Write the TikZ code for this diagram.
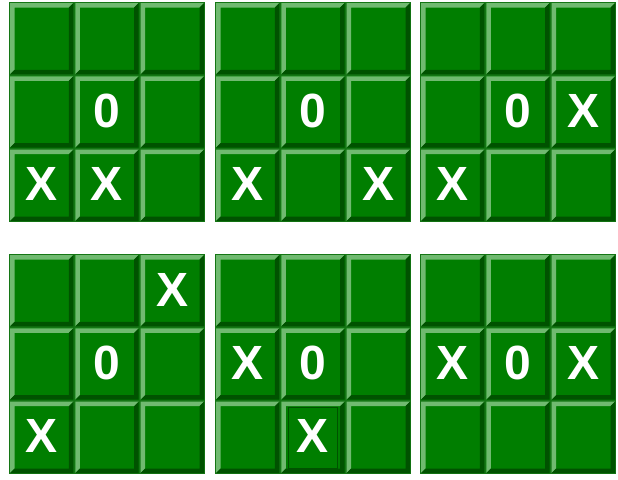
\documentclass[tikz,border=0pt]{standalone}
\usepackage{fontspec}
\setmainfont{Liberation Sans}
\definecolor{cface}{RGB}{0,126,0}
\definecolor{chilite}{RGB}{112,186,112}
\definecolor{cdark}{RGB}{0,82,0}
\definecolor{cboard}{RGB}{20,118,20}
\tikzset{
  tttmark/.style={text=white, inner sep=0pt, font=\bfseries\fontsize{48}{56}\selectfont},
  lastframe/.style={draw=cdark, line width=1.3pt}
}
\begin{document}
\begin{tikzpicture}[x=1pt,y=-1pt]
\useasboundingbox (0,0) rectangle (618,479);
\def\cw{65.333}
\def\ch{73.333}
\def\bv{4.5}
% boards and cells
\foreach \bx/\by in {9/2,215/2,420/2,9/254,215/254,420/254}{
  \fill[cboard] (\bx,\by) rectangle ++(196,220);
  \foreach \c in {0,1,2}{
    \foreach \r in {0,1,2}{
      \pgfmathsetmacro\xa{\bx+\c*\cw+1}
      \pgfmathsetmacro\xb{\xa+\cw-2}
      \pgfmathsetmacro\ya{\by+\r*\ch+1}
      \pgfmathsetmacro\yb{\ya+\ch-2}
      \fill[cface] (\xa,\ya) rectangle (\xb,\yb);
      \fill[chilite] (\xa,\yb) -- (\xa,\ya) -- (\xb,\ya) -- (\xb-\bv,\ya+\bv) -- (\xa+\bv,\ya+\bv) -- (\xa+\bv,\yb-\bv) -- cycle;
      \fill[cdark] (\xb,\ya) -- (\xb,\yb) -- (\xa,\yb) -- (\xa+\bv,\yb-\bv) -- (\xb-\bv,\yb-\bv) -- (\xb-\bv,\ya+\bv) -- cycle;
    }
  }
}
% last-move frame on board 5, bottom-middle cell
\pgfmathsetmacro\fxa{215+1*\cw+8}
\pgfmathsetmacro\fya{254+2*\ch+7}
\draw[lastframe] (\fxa,\fya) rectangle ++(\cw-16,\ch-12);
% marks
\foreach \bx/\by/\r/\c/\s/\n in {
  9/2/1/1/0/aa, 9/2/2/0/X/ab, 9/2/2/1/X/ac,
  215/2/1/1/0/ba, 215/2/2/0/X/bb, 215/2/2/2/X/bc,
  420/2/1/1/0/ca, 420/2/1/2/X/cb, 420/2/2/0/X/cc,
  9/254/0/2/X/da, 9/254/1/1/0/db, 9/254/2/0/X/dc,
  215/254/1/0/X/ea, 215/254/1/1/0/eb, 215/254/2/1/X/ec,
  420/254/1/0/X/fa, 420/254/1/1/0/fb, 420/254/1/2/X/fc}{
  \pgfmathsetmacro\mx{\bx+(\c+0.5)*\cw}
  \pgfmathsetmacro\my{\by+(\r+0.5)*\ch-1}
  \node[tttmark] (m\n) at (\mx,\my) {\s};
}
\end{tikzpicture}
\end{document}
